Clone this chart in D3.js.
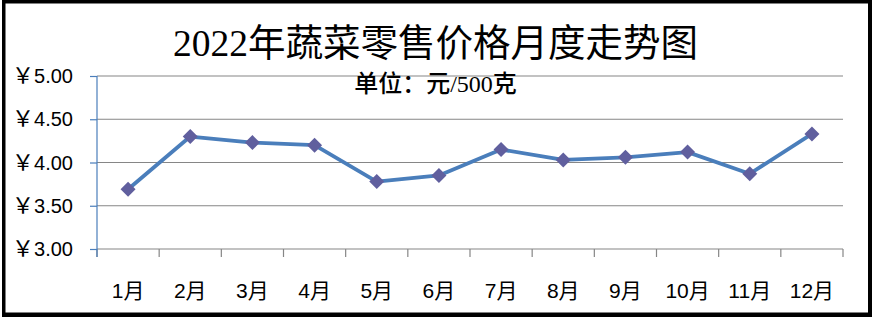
<!DOCTYPE html>
<html><head><meta charset="utf-8">
<script src="https://cdn.jsdelivr.net/npm/d3@7"></script>
<style>html,body{margin:0;padding:0;background:#fff;overflow:hidden}</style>
</head><body>
<svg id="c" width="872" height="319"></svg>
<script>
const months = ["1月","2月","3月","4月","5月","6月","7月","8月","9月","10月","11月","12月"];
const prices = [3.69, 4.30, 4.23, 4.20, 3.78, 3.85, 4.15, 4.03, 4.06, 4.12, 3.87, 4.33];
const yTicks = [3.00, 3.50, 4.00, 4.50, 5.00];
const titleText = "2022年蔬菜零售价格月度走势图";
const unitText = "单位：元/500克";

const svg = d3.select("#c");
// frame
svg.append("rect").attr("x",2).attr("y",0).attr("width",870).attr("height",317).attr("fill","#000");
svg.append("rect").attr("x",5.5).attr("y",3.5).attr("width",862.5).attr("height",309).attr("fill","#fff");

const L=97, R=843, T=76, B=249;
const x = d3.scaleBand().domain(months).range([L,R]).padding(0);
const y = d3.scaleLinear().domain([3,5]).range([B,T]);

// gridlines
svg.append("g").selectAll("line").data(yTicks.filter(d=>d>3)).join("line")
  .attr("x1",L).attr("x2",R).attr("y1",d=>y(d)).attr("y2",d=>y(d))
  .attr("stroke","#868686").attr("stroke-width",1.2);

// x axis
const xAxis = svg.append("g").attr("transform",`translate(0,${B})`)
  .call(d3.axisBottom(x).tickSize(0).tickFormat(""));
xAxis.select(".domain").attr("stroke","#868686").attr("stroke-width",1.2).attr("d",`M${L},0H${R}`);
const bounds = months.map(m=>x(m)).concat([R]);
svg.append("g").selectAll("line").data(bounds).join("line")
  .attr("x1",d=>d).attr("x2",d=>d).attr("y1",B).attr("y2",B+8)
  .attr("stroke","#868686").attr("stroke-width",1.2);
svg.append("g").selectAll("text").data(months).join("text")
  .attr("x",d=>x(d)+x.bandwidth()/2).attr("y",298)
  .attr("text-anchor","middle")
  .attr("font-family","'Liberation Sans','Noto Sans CJK SC',sans-serif")
  .attr("font-size",21).attr("fill","#000").text(d=>d);

// y axis
const yAxis = svg.append("g").attr("transform",`translate(${L},0)`)
  .call(d3.axisLeft(y).tickValues(yTicks).tickSize(7).tickFormat(""));
yAxis.select(".domain").attr("stroke","#4a7ebb").attr("stroke-width",1.2).attr("d",`M0,${T}V${B+8}`);
yAxis.selectAll(".tick line").attr("stroke","#4a7ebb").attr("stroke-width",1.2);
const yl = svg.append("g").selectAll("text").data(yTicks).join("text")
  .attr("x",73).attr("y",d=>y(d)+7)
  .attr("text-anchor","end")
  .attr("font-family","'Liberation Sans',sans-serif").attr("font-size",20).attr("fill","#000");
yl.append("tspan").attr("font-family","'Liberation Serif','Noto Sans CJK SC',serif").attr("font-size",22).text("￥");
yl.append("tspan").text(d=>d.toFixed(2));

// line
const line = d3.line().x(d=>x(d.m)+x.bandwidth()/2).y(d=>y(d.v));
const pts = months.map((m,i)=>({m, v:prices[i]}));
svg.append("path").datum(pts).attr("d",line).attr("fill","none")
  .attr("stroke","#4a7ebb").attr("stroke-width",3.8).attr("stroke-linejoin","round");
svg.append("g").selectAll("path").data(pts).join("path")
  .attr("transform",d=>`translate(${x(d.m)+x.bandwidth()/2},${y(d.v)})`)
  .attr("d","M0,-7.5L7.5,0L0,7.5L-7.5,0Z").attr("fill","#605f9e");

// titles
svg.append("text").attr("x",435.5).attr("y",56).attr("text-anchor","middle")
  .attr("font-family","'Liberation Serif','Noto Sans CJK SC',serif").attr("font-size",37.5).attr("fill","#000")
  .text(titleText);
const sub = svg.append("text").attr("x",435.5).attr("y",92).attr("text-anchor","middle")
  .attr("font-family","'Liberation Serif','Noto Sans CJK SC',serif").attr("font-weight",500).attr("font-size",24).attr("fill","#000");
sub.text(unitText);
</script>
</body></html>
